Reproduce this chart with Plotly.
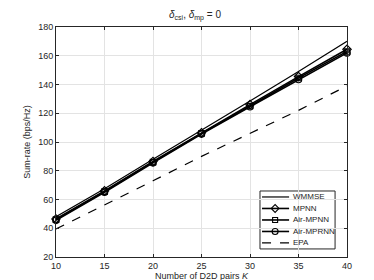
import plotly.graph_objects as go

K = [10, 15, 20, 25, 30, 35, 40]
wmmse = [48, 67.5, 88, 108, 128.5, 149, 170]
mpnn = [46.5, 66, 86.5, 106.5, 126, 145.5, 164.5]
air_mpnn = [46, 65.5, 86, 106, 125, 144.5, 163]
air_mprnn = [45.5, 65, 85.5, 105.5, 124.5, 143.5, 162]
epa = [39.5, 56, 73, 90, 106, 122, 139]

names = ["WMMSE", "MPNN", "Air-MPNN", "Air-MPRNN", "EPA"]
series = [wmmse, mpnn, air_mpnn, air_mprnn, epa]
symbols = [None, "diamond-open", "square-open", "circle-open", None]
msizes = [0, 6.5, 5.5, 6.5, 0]
widths = [1.2, 1.6, 1.6, 1.6, 1.2]
dashes = ["solid", "solid", "solid", "solid", "dash"]

fig = go.Figure()
for n, s, sym, ms, w, d in zip(names, series, symbols, msizes, widths, dashes):
    if sym:
        fig.add_trace(go.Scatter(x=K, y=s, name=n, mode="lines+markers", cliponaxis=False,
                                 line=dict(color="black", width=w, dash=d),
                                 marker=dict(symbol=sym, size=ms, color="black", line=dict(width=1.1)),
                                 showlegend=False))
    else:
        fig.add_trace(go.Scatter(x=K, y=s, name=n, mode="lines",
                                 line=dict(color="black", width=w, dash=d), showlegend=False))

# custom compact legend (paper coordinates of the plot area)
lx0, lx1, ly0, ly1 = 0.701, 0.959, 0.035, 0.287
row_y = [0.261, 0.211, 0.161, 0.111, 0.061]
sx0, sx1, smid, tx = 0.708, 0.801, 0.753, 0.808
shapes = [dict(type="rect", xref="paper", yref="paper", x0=lx0, x1=lx1, y0=ly0, y1=ly1,
               fillcolor="white", line=dict(color="#262626", width=1), layer="below")]
annotations = []
for i, n in enumerate(names):
    shapes.append(dict(type="line", xref="paper", yref="paper", x0=sx0, x1=sx1, y0=row_y[i], y1=row_y[i],
                       line=dict(color="black", width=widths[i], dash=dashes[i]), layer="above"))
    annotations.append(dict(xref="paper", yref="paper", x=tx, y=row_y[i], text=n, showarrow=False,
                            xanchor="left", yanchor="middle", font=dict(size=8, color="#262626")))
    if symbols[i]:
        fig.add_trace(go.Scatter(x=[smid], y=[row_y[i]], xaxis="x2", yaxis="y2", mode="markers",
                                 marker=dict(symbol=symbols[i], size=msizes[i] - 0.5,
                                             color="black", line=dict(width=1.1)),
                                 showlegend=False, hoverinfo="skip", cliponaxis=False))

axis_common = dict(showline=True, linecolor="#262626", linewidth=1, mirror="ticks",
                   ticks="inside", ticklen=3, tickcolor="#262626", automargin=False,
                   showgrid=True, gridcolor="#e3e3e3", gridwidth=1, zeroline=False,
                   tickfont=dict(size=9, color="#262626"))

fig.update_layout(
    template="none",
    width=374, height=280,
    margin=dict(l=48, r=35, t=19, b=31, pad=0),
    paper_bgcolor="white", plot_bgcolor="white",
    font=dict(family="Liberation Sans, Arial, sans-serif", color="#262626"),
    title=dict(text="<i>δ</i><sub>csi</sub>, <i>δ</i><sub>mp</sub> = 0", x=0.5, xanchor="center",
               y=0.99, yanchor="top", font=dict(size=10, color="#262626")),
    xaxis=dict(range=[10, 40], tickvals=[10, 15, 20, 25, 30, 35, 40],
               title=dict(text="Number of D2D pairs <i>K</i>", font=dict(size=9), standoff=2),
               **axis_common),
    yaxis=dict(range=[20, 180], tickvals=[20, 40, 60, 80, 100, 120, 140, 160, 180],
               title=dict(text="Sum-rate (bps/Hz)", font=dict(size=9), standoff=6),
               **axis_common),
    xaxis2=dict(overlaying="x", range=[0, 1], visible=False, fixedrange=True),
    yaxis2=dict(overlaying="y", range=[0, 1], visible=False, fixedrange=True),
    shapes=shapes,
    annotations=annotations,
    showlegend=False,
)

fig.write_html("out.html")
